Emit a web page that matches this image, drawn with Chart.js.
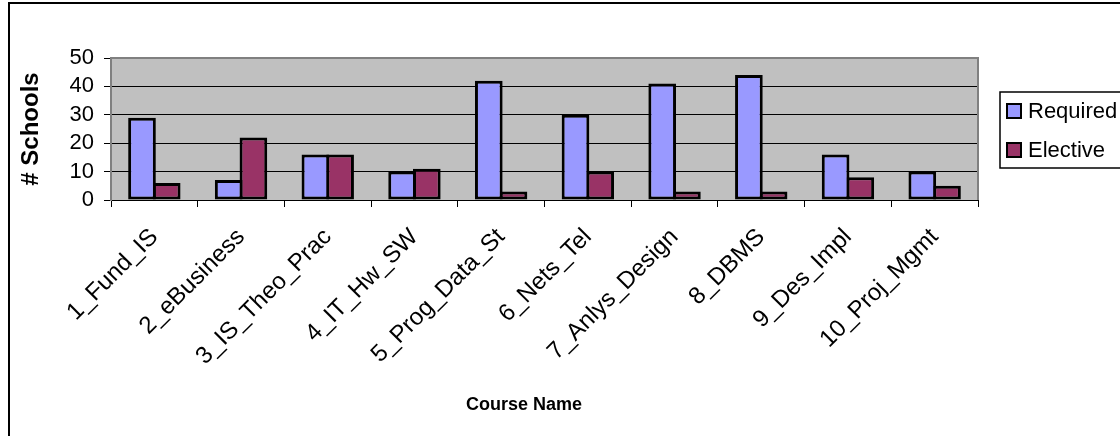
<!DOCTYPE html>
<html>
<head>
<meta charset="utf-8">
<script src="https://cdn.jsdelivr.net/npm/chart.js@4.4.1/dist/chart.umd.min.js"></script>
<style>
  html, body { margin: 0; padding: 0; background: #ffffff; }
  #wrap { width: 1120px; height: 436px; }
</style>
</head>
<body>
<div id="wrap"><canvas id="chart" width="1120" height="436"></canvas></div>
<script>
// Course areas and how many schools list each one as required / elective
const courses = ['1_Fund_IS', '2_eBusiness', '3_IS_Theo_Prac', '4_IT_Hw_SW', '5_Prog_Data_St',
                 '6_Nets_Tel', '7_Anlys_Design', '8_DBMS', '9_Des_Impl', '10_Proj_Mgmt'];
const requiredCounts = [29, 7, 16, 10, 42, 30, 41, 44, 16, 10];
const electiveCounts = [6, 22, 16, 11, 3, 10, 3, 3, 8, 5];
const yTicks = [0, 10, 20, 30, 40, 50];
const xAxisTitle = 'Course Name';

const FONT = "'Liberation Sans', Arial, sans-serif";

// Frame, grey plot background and plot outline
const framePlugin = {
  id: 'frame',
  beforeDraw(chart) {
    const { ctx, chartArea: a } = chart;
    ctx.save();
    ctx.fillStyle = '#ffffff';
    ctx.fillRect(0, 0, chart.width, chart.height);
    ctx.strokeStyle = '#000000';
    ctx.lineWidth = 2;
    ctx.strokeRect(9, 3, chart.width + 20, chart.height + 20);
    ctx.fillStyle = '#C0C0C0';
    ctx.fillRect(a.left, a.top, a.right - a.left, a.bottom - a.top);
    ctx.restore();
  },
  beforeDatasetsDraw(chart) {
    const { ctx, chartArea: a } = chart;
    ctx.save();
    ctx.strokeStyle = '#808080';
    ctx.lineWidth = 2;
    ctx.beginPath();
    ctx.moveTo(a.left, a.bottom);
    ctx.lineTo(a.left, a.top);
    ctx.lineTo(a.right, a.top);
    ctx.lineTo(a.right, a.bottom);
    ctx.stroke();
    ctx.restore();
  }
};

// Boxed legend to the right of the plot, and the category axis caption
const boxLegend = {
  id: 'boxLegend',
  afterDraw(chart) {
    const { ctx } = chart;
    const x0 = 1000, top = 92, bottom = 168;
    ctx.save();
    ctx.fillStyle = '#ffffff';
    ctx.fillRect(x0, top, chart.width - x0 + 10, bottom - top);
    ctx.strokeStyle = '#000000';
    ctx.lineWidth = 1.5;
    ctx.strokeRect(x0, top, chart.width - x0 + 20, bottom - top);
    ctx.font = '22px ' + FONT;
    ctx.textBaseline = 'middle';
    ctx.textAlign = 'left';
    chart.data.datasets.forEach((ds, i) => {
      const cy = 111 + i * 39;
      ctx.fillStyle = ds.backgroundColor;
      ctx.fillRect(1007, cy - 7, 14, 14);
      ctx.strokeStyle = '#000000';
      ctx.lineWidth = 2;
      ctx.strokeRect(1007, cy - 7, 14, 14);
      ctx.fillStyle = '#000000';
      ctx.fillText(ds.label, 1028, cy + 1);
    });

    ctx.font = 'bold 18px ' + FONT;
    ctx.textAlign = 'center';
    ctx.fillStyle = '#000000';
    ctx.fillText(xAxisTitle, 524, 405);
    ctx.restore();
  }
};

new Chart(document.getElementById('chart'), {
  type: 'bar',
  data: {
    labels: courses,
    datasets: [
      { label: 'Required', data: requiredCounts, backgroundColor: '#9999FF' },
      { label: 'Elective', data: electiveCounts, backgroundColor: '#993366' }
    ]
  },
  options: {
    responsive: false,
    animation: false,
    devicePixelRatio: 1,
    layout: { padding: { left: 0, right: 142, top: 58, bottom: 0 } },
    datasets: {
      bar: {
        borderColor: '#000000',
        borderWidth: 3,
        borderSkipped: false,
        categoryPercentage: 0.57,
        barPercentage: 1.12
      }
    },
    plugins: {
      legend: { display: false },
      tooltip: { enabled: false },
      title: { display: false }
    },
    scales: {
      x: {
        afterFit(scale) { scale.height = 236; },
        grid: {
          drawOnChartArea: false,
          drawTicks: true,
          tickLength: 7,
          tickColor: '#000000',
          offset: true
        },
        border: { display: true, color: '#000000', width: 1 },
        ticks: {
          minRotation: 45,
          maxRotation: 45,
          autoSkip: false,
          padding: 16,
          color: '#000000',
          font: { family: FONT, size: 24 }
        },
        title: { display: false }
      },
      y: {
        min: 0,
        max: 50,
        afterFit(scale) { scale.width = 111; },
        afterBuildTicks(scale) { scale.ticks = yTicks.map(v => ({ value: v })); },
        grid: {
          color: c => (c.tick && (c.tick.value === 0 || c.tick.value === 50)) ? 'rgba(0,0,0,0)' : '#000000',
          tickColor: '#000000',
          lineWidth: 1,
          drawTicks: true,
          tickLength: 7
        },
        border: { display: true, color: '#808080', width: 2 },
        ticks: {
          autoSkip: false,
          padding: 10,
          color: '#000000',
          font: { family: FONT, size: 22, lineHeight: 1 }
        },
        title: {
          display: true,
          text: '# Schools',
          color: '#000000',
          font: { family: FONT, size: 24, weight: 'bold' },
          padding: { top: 17, bottom: 0 }
        }
      }
    }
  },
  plugins: [framePlugin, boxLegend]
});
</script>
</body>
</html>
